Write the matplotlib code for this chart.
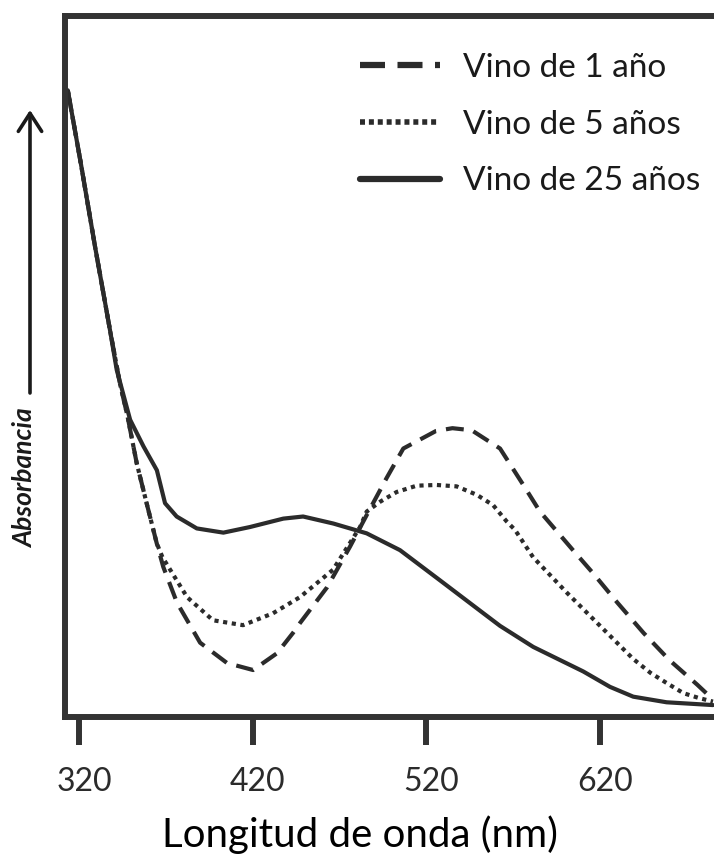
import matplotlib
matplotlib.use("Agg")
import matplotlib.pyplot as plt
from matplotlib.transforms import ScaledTranslation

# =========================
# DATA
# =========================
wl_1 = [313.5, 321.0, 329.2, 337.8, 343.6, 347.9, 353.2, 358.9, 364.7, 368.5,
        376.4, 389.7, 405.2, 420.2, 434.0, 443.2, 447.2, 462.8, 476.0, 485.6,
        497.1, 506.7, 525.5, 535.0, 546.1, 562.4, 575.8, 585.4, 604.4, 616.0,
        630.0, 645.0, 660.0, 676.0, 685.0]
abs_1 = [0.894, 0.790, 0.671, 0.552, 0.475, 0.429, 0.362, 0.305, 0.248, 0.214,
         0.163, 0.106, 0.077, 0.067, 0.091, 0.120, 0.134, 0.185, 0.243, 0.288,
         0.341, 0.383, 0.408, 0.412, 0.409, 0.383, 0.331, 0.293, 0.238, 0.205,
         0.163, 0.120, 0.081, 0.046, 0.025]

wl_5 = [313.5, 321.0, 329.2, 337.8, 343.6, 347.9, 353.2, 358.9, 364.7, 368.0,
        382.2, 397.1, 414.4, 431.7, 447.2, 466.2, 481.8, 485.6, 493.3, 502.9,
        514.4, 525.9, 537.4, 549.0, 558.5, 566.2, 571.0, 581.4, 601.0, 620.0,
        639.0, 649.0, 658.0, 668.0, 677.0, 685.0]
abs_5 = [0.894, 0.790, 0.671, 0.552, 0.475, 0.429, 0.362, 0.305, 0.248, 0.228,
         0.171, 0.138, 0.131, 0.148, 0.171, 0.210, 0.271, 0.293, 0.307, 0.321,
         0.330, 0.331, 0.329, 0.317, 0.302, 0.279, 0.267, 0.228, 0.177, 0.130,
         0.083, 0.063, 0.049, 0.034, 0.027, 0.022]

wl_25 = [313.5, 321.0, 329.2, 337.8, 341.7, 349.4, 357.1, 364.8, 367.6,
         369.5, 376.2, 387.8, 395.4, 403.1, 418.4, 437.6, 449.0, 466.4, 485.6,
         504.8, 527.8, 552.8, 562.4, 581.5, 610.3, 625.7, 639.1, 658.3, 685.0]
abs_25 = [0.894, 0.790, 0.671, 0.552, 0.495, 0.424, 0.386, 0.352, 0.324,
          0.305, 0.286, 0.269, 0.266, 0.263, 0.271, 0.283, 0.286, 0.276, 0.262,
          0.238, 0.195, 0.148, 0.130, 0.100, 0.065, 0.043, 0.029, 0.021, 0.017]

labels = ["Vino de 1 año", "Vino de 5 años", "Vino de 25 años"]
xticks = [320, 420, 520, 620]

# =========================
# STYLE
# =========================
FONT = "Lato"
INK = "#2b2b2b"
SPINE = "#333333"
W, H = 714, 855

fig = plt.figure(figsize=(W / 100, H / 100), dpi=100)
ax = fig.add_axes([65 / W, 1 - 717 / H, 1 - 65 / W, (717 - 16) / H])

l1, = ax.plot(wl_1, abs_1, color=INK, lw=3.0, dashes=(4.3, 2.4),
              dash_capstyle="butt", label=labels[0])
l5, = ax.plot(wl_5, abs_5, color=INK, lw=3.0, dashes=(1.0, 1.1),
              dash_capstyle="butt", label=labels[1])
l25, = ax.plot(wl_25, abs_25, color=INK, lw=3.0, solid_capstyle="round",
               solid_joinstyle="round", label=labels[2])

ax.set_xlim(311.9, 685.6)
ax.set_ylim(0, 1)
ax.set_yticks([])
ax.set_xticks(xticks)
ax.set_xticklabels([str(t) for t in xticks], family=FONT, fontsize=23, color=INK)
ax.tick_params(axis="x", direction="out", length=20, width=4.3, color=SPINE, pad=16)
for lab in ax.get_xticklabels():
    lab.set_transform(lab.get_transform() + ScaledTranslation(0.05, 0, fig.dpi_scale_trans))

for side in ["left", "top", "bottom"]:
    ax.spines[side].set_linewidth(4.3)
    ax.spines[side].set_color(SPINE)
ax.spines["right"].set_visible(False)

fig.text(360 / W, 1 - 847 / H, "Longitud de onda (nm)", family=FONT, fontsize=29,
         ha="center", va="baseline", color="black")

# y axis: arrow + label
ax.annotate("", xy=(30 / W, 1 - 110 / H), xytext=(30 / W, 1 - 393 / H),
            xycoords="figure fraction", textcoords="figure fraction",
            arrowprops=dict(arrowstyle="->,head_length=0.65,head_width=0.42",
                            mutation_scale=20, lw=2.6, color="#1a1a1a",
                            shrinkA=0, shrinkB=0))
fig.text(25 / W, 1 - 478 / H, "Absorbancia", family=FONT, fontsize=19,
         style="italic", weight="bold", rotation=90, ha="center", va="center",
         color="#1a1a1a")

leg = ax.legend(handles=[l1, l5, l25], loc="upper left", frameon=False,
                bbox_to_anchor=(360 / W, 1 - 53 / H), bbox_transform=fig.transFigure,
                prop={"family": FONT, "size": 24}, handlelength=2.4,
                handletextpad=0.69, labelspacing=0.8, borderpad=0, borderaxespad=0)
for t in leg.get_texts():
    t.set_color("#1a1a1a")
hl = leg.get_lines()
hl[0].set_linewidth(4.5)
hl[0].set_dashes((4.0, 2.0))
hl[1].set_linewidth(4.0)
hl[1].set_dashes((0.9, 0.7))
hl[2].set_linewidth(4.5)

fig.savefig("out.png", dpi=100)
